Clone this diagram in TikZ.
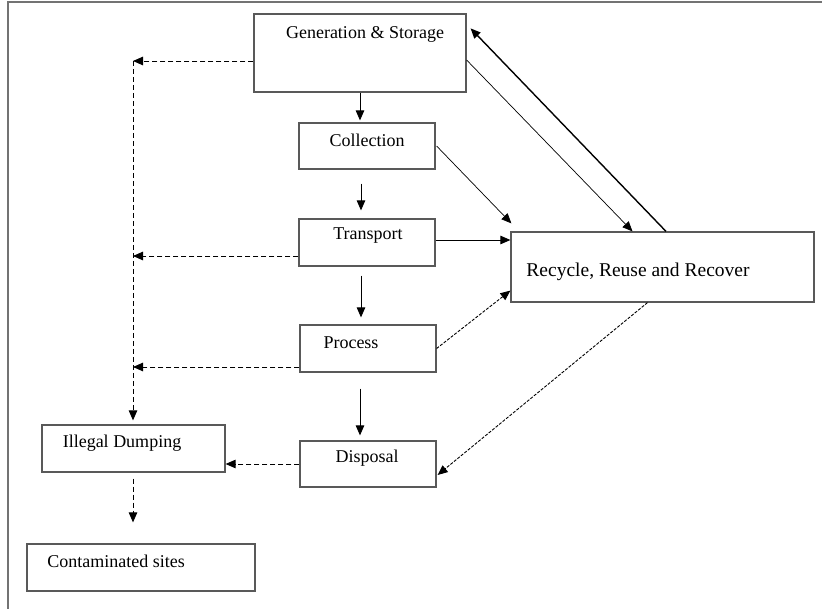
\documentclass[tikz,border=0pt]{standalone}
\usepackage{fontspec}
\setmainfont{Liberation Serif}
\usetikzlibrary{arrows.meta}

\tikzset{
	box/.style={draw=black!65, line width=1.2pt, inner sep=0pt},
	lbl/.style={font=\fontsize{18}{20}\selectfont, inner sep=0pt},
	arr/.style={-{Triangle[length=10pt,width=8.5pt]}, line width=0.9pt},
	darr/.style={arr, dash pattern=on 5pt off 3pt},
	fdarr/.style={arr, dash pattern=on 3pt off 1.5pt},
}

\begin{document}
\begin{tikzpicture}[x=1pt,y=-1pt]
	\useasboundingbox (0,0) rectangle (822,609);
	% Rahmen
	\draw[black!55, line width=1.3pt] (8,609) -- (8,2) -- (822,2);

	% Kaesten
	\node[box, minimum width=212pt, minimum height=78pt] (gen) at (360,53) {};
	\node[lbl] (gentxt) at (365,34) {Generation \& Storage};
	\node[box, minimum width=136pt, minimum height=46pt] (coll) at (367,146) {};
	\node[lbl] (colltxt) at (367,140) {Collection};
	\node[box, minimum width=136pt, minimum height=47pt] (trans) at (367,242.5) {};
	\node[lbl] (transtxt) at (368,236) {Transport};
	\node[box, minimum width=136pt, minimum height=47pt] (proc) at (368,348.5) {};
	\node[lbl] (proctxt) at (351,343) {Process};
	\node[box, minimum width=136pt, minimum height=46pt] (disp) at (368,464) {};
	\node[lbl] (disptxt) at (367,458) {Disposal};
	\node[box, minimum width=183pt, minimum height=47pt] (illegal) at (133.5,448.5) {};
	\node[lbl] (illegaltxt) at (122,443) {Illegal Dumping};
	\node[box, minimum width=228pt, minimum height=47pt] (cont) at (141,567.5) {};
	\node[lbl] (conttxt) at (116,561) {Contaminated sites};
	\node[box, minimum width=303pt, minimum height=70pt] (rrr) at (662.5,267) {};
	\node[lbl, font=\fontsize{19.5}{22}\selectfont] (rrrtxt) at (638,272) {Recycle, Reuse and Recover};

	% Hauptkette
	\draw[arr] (gen.south) -- ([shift={(0,-2)}]gen.south |- coll.north);
	\draw[arr] ([shift={(-6,14)}]coll.south) -- ([shift={(-6,-8)}]trans.north);
	\draw[arr] ([shift={(-6,9)}]trans.south) -- ([shift={(-7,-7)}]proc.north);
	\draw[arr] ([shift={(-8,16)}]proc.south) -- ([shift={(-8,-5)}]disp.north);

	% Verwertung
	\draw[arr, line width=0.7pt] ([shift={(0,7)}]gen.east) -- ([shift={(-30,0)}]rrr.north);
	\draw[arr, line width=1.4pt] ([shift={(3.5,0)}]rrr.north) -- ([shift={(4,15)}]gen.north east);
	\draw[arr, line width=0.7pt] ([shift={(1,0)}]coll.east) -- ([shift={(1,-8)}]rrr.north west);
	\draw[arr] ([shift={(0,-2.5)}]trans.east) -- ([shift={(0,-2.5)}]trans.east -| rrr.west);
	\draw[fdarr] (proc.east) -- ([shift={(0,-12)}]rrr.south west);
	\draw[fdarr] ([shift={(-15,0)}]rrr.south) -- ([shift={(1,11)}]disp.east);

	% illegale Wege
	\coordinate (jgen) at (133,61);
	\coordinate (jtrans) at (133,256);
	\coordinate (jproc) at (133,367);
	\draw[darr] ([shift={(0,8)}]gen.west) -- (jgen);
	\draw[darr] ([shift={(0,13.5)}]trans.west) -- (jtrans);
	\draw[darr] ([shift={(0,18.5)}]proc.west) -- (jproc);
	\draw[darr] (jgen) -- ([shift={(0,-4)}]jgen |- illegal.north);
	\draw[darr] (disp.west) -- (disp.west -| illegal.east);
	\draw[darr] ([shift={(0,6)}]jgen |- illegal.south) -- ([shift={(0,-21)}]jgen |- cont.north);
\end{tikzpicture}
\end{document}
